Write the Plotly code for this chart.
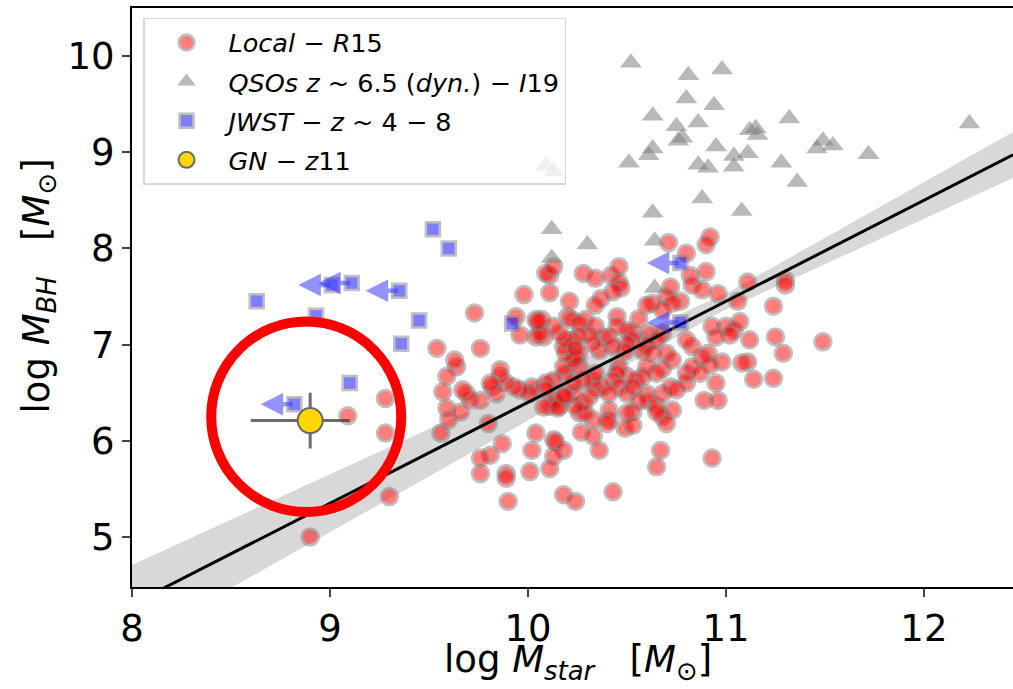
import plotly.graph_objects as go
import numpy as np

# ---------------- data ----------------
local_x = [10.92,10.90,10.71,10.80,10.90,10.82,10.83,10.88,10.96,11.06,11.11,11.30,11.30,11.24,11.25,11.29,11.49,11.24,11.14,11.11,
           11.08,10.98,10.95,10.89,10.96,10.93,11.00,11.04,11.07,11.02,10.93,10.95,11.12,10.91,10.92,10.88,10.83,10.80,10.77,10.72,
           10.70,10.73,10.68,10.63,10.60,10.56,10.53,10.61,10.68,10.65,10.60,10.58,10.63,10.70,10.73,10.68,10.65,10.60,10.58,10.55,
           10.50,10.46,10.45,10.43,10.46,10.50,10.53,10.60,10.61,10.56,10.65,10.68,10.72,10.75,10.80,10.80,10.83,10.87,10.73,10.68,
           10.70,10.65,10.53,10.50,10.41,10.41,10.40,10.33,10.26,10.29,10.28,10.24,10.23,10.31,10.34,10.38,10.41,10.33,10.34,10.28,
           10.23,10.19,10.18,10.26,10.26,10.24,10.23,10.19,10.18,10.13,10.09,10.11,10.16,10.19,10.14,10.09,10.02,10.01,9.96,9.93,
           9.89,9.86,9.82,9.84,9.81,9.80,9.76,9.71,9.69,9.67,9.64,9.63,9.59,9.57,9.59,9.60,9.56,9.66,9.73,9.76,
           9.54,9.98,10.11,10.11,10.09,10.13,10.28,10.34,10.42,10.46,10.46,10.47,10.43,10.37,10.34,10.20,10.21,10.22,10.29,10.26,
           10.34,10.38,10.41,10.45,10.45,10.50,10.53,10.50,10.49,10.43,10.36,10.33,10.31,10.26,10.23,10.19,10.16,10.13,10.08,10.04,
           10.04,10.07,9.94,9.96,10.06,10.24,10.04,10.13,10.14,10.18,10.13,10.11,10.02,10.01,9.89,9.87,9.89,9.76,9.81,9.76,
           10.67,10.65,10.43,10.18,10.24,9.90,9.30,9.28,9.28,8.90,9.09,10.27,10.33,10.36,10.49,10.53,9.86,10.05,10.08,10.15,
           10.18]
local_y = [8.12,8.04,8.06,7.95,7.76,7.72,7.62,7.57,7.53,7.45,7.65,7.67,7.62,7.40,7.08,6.91,7.03,6.65,6.64,6.82,
           6.81,6.82,6.60,6.42,6.42,5.82,7.19,7.15,7.24,7.10,7.19,7.08,7.05,6.91,6.79,6.87,6.98,7.05,7.45,7.60,
           7.50,7.43,7.36,7.43,7.41,7.27,7.13,7.12,7.12,7.05,7.00,6.93,6.91,6.91,6.84,6.75,6.70,6.77,6.67,6.63,
           6.67,6.77,6.70,6.63,6.56,6.49,6.56,6.49,6.41,6.41,6.36,6.49,6.56,6.53,6.60,6.70,6.77,6.70,6.32,6.25,
           6.18,6.30,6.30,6.29,6.32,6.22,6.18,6.22,6.29,6.29,6.39,6.36,6.49,6.46,6.53,6.56,6.49,6.63,6.70,6.63,
           6.60,6.70,6.77,6.77,6.91,6.88,6.84,6.91,6.98,6.63,6.60,6.36,6.36,6.46,6.42,6.53,6.56,6.49,6.53,6.56,
           6.60,6.67,6.56,6.49,6.60,6.18,6.42,6.42,6.49,6.53,6.77,6.84,6.67,6.51,6.34,6.22,6.08,6.30,7.33,6.96,
           6.96,7.52,7.54,7.72,7.74,7.81,7.74,7.69,7.72,7.81,7.65,7.59,7.55,7.48,7.41,7.29,7.45,7.26,7.26,7.22,
           7.19,7.08,7.08,7.29,7.19,7.15,7.05,7.01,6.93,6.98,6.94,7.01,7.10,7.10,7.05,7.05,7.12,7.19,7.08,7.08,
           7.26,7.26,7.29,7.10,7.12,6.96,6.08,6.01,5.99,5.90,5.84,5.71,5.90,5.68,5.66,5.97,5.61,5.66,5.85,5.82,
           5.90,5.73,5.47,5.44,5.37,5.37,5.42,6.44,6.08,5.00,6.26,6.09,6.05,5.90,6.13,6.16,6.74,7.24,6.35,6.34,
           6.47]

qso_x = [10.52,10.81,10.98,10.80,10.94,10.63,10.75,10.86,10.78,10.76,10.63,10.61,10.51,10.95,11.04,11.11,10.86,10.91,11.04,11.12,
         11.15,11.16,11.32,11.28,11.36,11.49,11.46,11.54,11.72,12.23,10.88,11.08,10.63,10.12,10.30,10.64,10.12,10.09,10.13,10.64]
qso_y = [9.93,9.80,9.86,9.56,9.49,9.38,9.27,9.31,9.15,9.12,9.04,8.97,8.89,9.06,8.96,8.99,8.87,8.84,8.85,9.23,
         9.25,9.18,9.35,8.89,8.69,9.12,9.04,9.07,8.98,9.30,8.52,8.39,8.37,8.20,8.04,8.08,7.90,8.86,8.80,7.59]

jwst_x = [8.63, 8.93, 9.01, 9.11, 9.35, 9.52, 9.60, 9.45, 9.36, 9.10, 8.82, 9.92, 10.77, 10.77]
jwst_y = [7.45, 7.30, 7.62, 7.64, 7.56, 8.20, 8.00, 7.25, 7.01, 6.60, 6.38, 7.22, 7.85, 7.23]
jwst_upper = [False, False, True, True, True, False, False, False, False, False, True, False, True, True]

gn_x, gn_y = [8.90], [6.21]
gn_xerr_minus, gn_xerr_plus = [0.30], [0.20]
gn_yerr = [0.29]

# Reines & Volonteri 2015 relation
R15_a, R15_da = 7.45, 0.08
R15_b, R15_db = 1.05, 0.11
R15_pivot = 11.0

# highlight ring around GN-z11 (centre, radii in data units)
ring_cx, ring_cy, ring_rx, ring_ry = 8.88, 6.25, 0.48, 0.99

ARROW_LEN = 0.17
XR = [8.0, 12.45]
YR = [4.48, 10.50]

# ---------------- figure ----------------
fig = go.Figure()

xl = np.linspace(XR[0], XR[1], 200)
yl = R15_a + R15_b * (xl - R15_pivot)
dy = R15_da + R15_db * np.abs(xl - R15_pivot)

fig.add_trace(go.Scatter(x=np.concatenate([xl, xl[::-1]]),
                         y=np.concatenate([yl + dy, (yl - dy)[::-1]]),
                         fill="toself", fillcolor="rgb(216,216,216)",
                         line=dict(width=0), mode="lines",
                         showlegend=False, hoverinfo="skip"))

fig.add_trace(go.Scatter(x=local_x, y=local_y, mode="markers",
                         name="<i>Local</i> − <i>R</i>15",
                         marker=dict(symbol="circle", size=17, color="red", opacity=0.5,
                                     line=dict(color="gray", width=2.5))))

fig.add_trace(go.Scatter(x=xl, y=yl, mode="lines", line=dict(color="black", width=3),
                         showlegend=False, hoverinfo="skip"))

fig.add_trace(go.Scatter(x=qso_x, y=qso_y, mode="markers",
                         name="<i>QSOs z</i> ~ 6.5 (<i>dyn.</i>) − <i>I</i>19",
                         marker=dict(symbol="triangle-up", size=19, color="gray", opacity=0.55,
                                     line=dict(width=0))))

fig.add_trace(go.Scatter(x=jwst_x, y=jwst_y, mode="markers",
                         name="<i>JWST</i> − <i>z</i> ~ 4 − 8",
                         marker=dict(symbol="square", size=14, color="blue", opacity=0.5,
                                     line=dict(color="gray", width=2.5))))

fig.add_trace(go.Scatter(x=gn_x, y=gn_y, mode="markers",
                         name="<i>GN</i> − <i>z</i>11",
                         error_x=dict(type="data", symmetric=False, array=gn_xerr_plus,
                                      arrayminus=gn_xerr_minus, color="rgba(70,70,70,0.8)",
                                      thickness=3, width=0),
                         error_y=dict(type="data", array=gn_yerr, color="rgba(70,70,70,0.8)",
                                      thickness=3, width=0),
                         marker=dict(symbol="circle", size=25, color="gold",
                                     line=dict(color="dimgray", width=2))))

annotations = []
for x, y, up in zip(jwst_x, jwst_y, jwst_upper):
    if up:
        annotations.append(dict(x=x - ARROW_LEN, y=y, ax=x, ay=y, xref="x", yref="y",
                                axref="x", ayref="y", text="", showarrow=True,
                                arrowhead=2, arrowsize=1.0, arrowwidth=4.5,
                                arrowcolor="rgba(60,60,255,0.55)"))

# axis titles as annotations (precise placement)
annotations.append(dict(text="log <i>M</i><sub><i>star</i></sub>   [<i>M</i><sub>⊙</sub>]",
                        xref="paper", yref="paper", x=0.506, y=-0.129,
                        xanchor="center", yanchor="middle", showarrow=False,
                        font=dict(size=37, family="DejaVu Sans", color="black")))
annotations.append(dict(text="log <i>M</i><sub><i>BH</i></sub>   [<i>M</i><sub>⊙</sub>]",
                        xref="paper", yref="paper", x=-0.106, y=0.52, textangle=-90,
                        xanchor="center", yanchor="middle", showarrow=False,
                        font=dict(size=37, family="DejaVu Sans", color="black")))

fig.update_layout(
    width=1013, height=689,
    margin=dict(l=132, r=0, t=8, b=102, autoexpand=False),
    plot_bgcolor="white", paper_bgcolor="white",
    font=dict(family="DejaVu Sans", size=36, color="black"),
    shapes=[dict(type="circle", xref="x", yref="y",
                 x0=ring_cx - ring_rx, x1=ring_cx + ring_rx,
                 y0=ring_cy - ring_ry, y1=ring_cy + ring_ry,
                 line=dict(color="red", width=10), layer="above")],
    annotations=annotations,
    legend=dict(x=0.0125, y=0.983, xanchor="left", yanchor="top",
                bgcolor="rgba(255,255,255,0.8)", bordercolor="rgb(215,215,215)",
                borderwidth=1.5, font=dict(size=25.5, family="DejaVu Sans"),
                itemwidth=74, tracegroupgap=3),
    showlegend=True,
)
for i, tr in enumerate(fig.data):
    tr.legendgroup = f"g{i}"

fig.update_xaxes(range=XR, tickvals=[8, 9, 10, 11, 12], ticks="outside", ticklen=8, tickwidth=2,
                 tickfont=dict(size=37), showline=True, linewidth=2, linecolor="black",
                 mirror=True, showgrid=False, zeroline=False, automargin=False)
fig.update_yaxes(range=YR, tickvals=[5, 6, 7, 8, 9, 10], ticks="outside", ticklen=8, tickwidth=2,
                 tickfont=dict(size=37), showline=True, linewidth=2, linecolor="black",
                 showgrid=False, zeroline=False, automargin=False)

# remove the default 8px page margin so the figure sits at the window's top-left corner
fig.write_html("out.html", config={"displayModeBar": False},
               post_script="document.body.style.margin='0';document.body.style.overflow='hidden';")
